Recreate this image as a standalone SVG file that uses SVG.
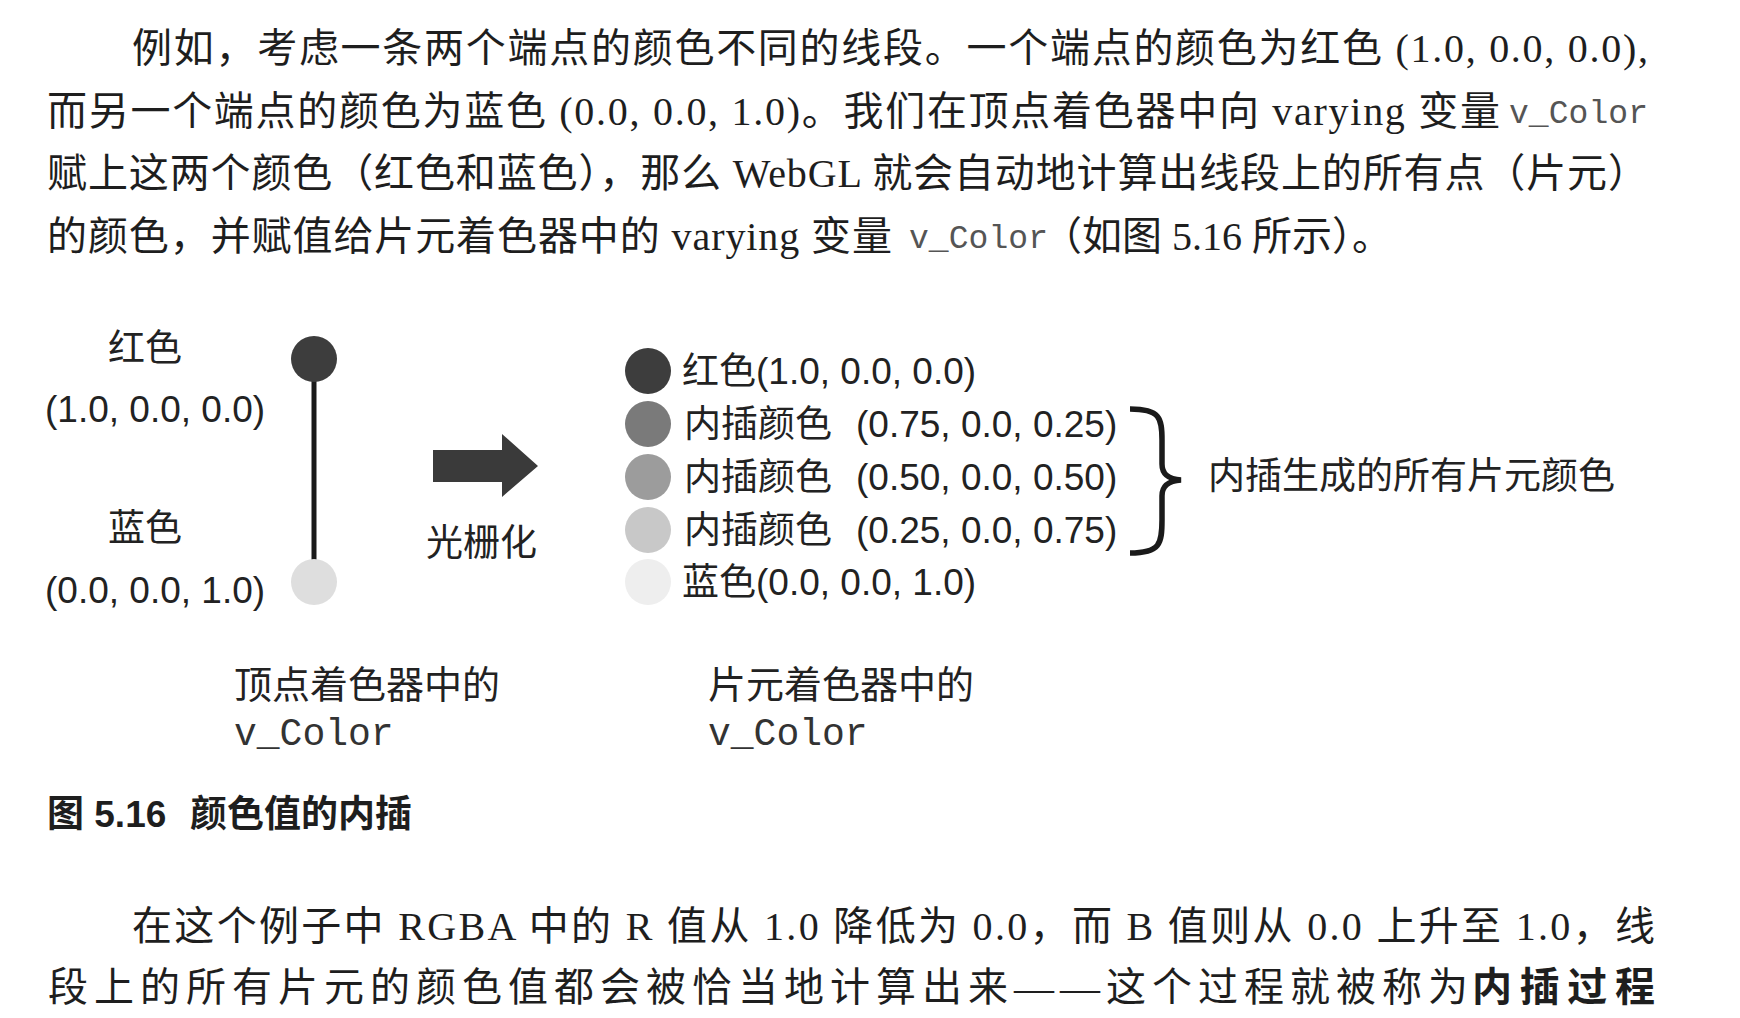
<svg xmlns="http://www.w3.org/2000/svg" width="1740" height="1018" viewBox="0 0 1740 1018">
<style>
.body{font-family:"Liberation Serif","Noto Sans CJK SC",serif;font-size:40px;fill:#1e1e1e}
.mono{font-family:"Liberation Mono",monospace;fill:#555}
.lbl{font-family:"Liberation Sans","Noto Sans CJK SC",sans-serif;font-size:37px;fill:#222}
.lbl2{font-family:"Liberation Sans","Noto Sans CJK SC",sans-serif;font-size:38px;fill:#222}
.lblm{font-family:"Liberation Mono",monospace;font-size:38px;fill:#333}
.cap{font-family:"Liberation Sans","Noto Sans CJK SC",sans-serif;font-size:37px;font-weight:bold;fill:#1e1e1e}
</style>
<rect width="1740" height="1018" fill="#ffffff"/>
<g id="paragraph1">
<text class="body" x="132" y="62" textLength="1516" lengthAdjust="spacing">例如，考虑一条两个端点的颜色不同的线段。一个端点的颜色为红色 (1.0, 0.0, 0.0),</text>
<text class="body" x="47" y="125" textLength="1453" lengthAdjust="spacing">而另一个端点的颜色为蓝色 (0.0, 0.0, 1.0)。我们在顶点着色器中向 varying 变量</text>
<text class="mono" x="1509" y="123" font-size="33" textLength="139" lengthAdjust="spacing">v_Color</text>
<text class="body" x="47" y="187" textLength="1601" lengthAdjust="spacing">赋上这两个颜色（红色和蓝色），那么 WebGL 就会自动地计算出线段上的所有点（片元）</text>
<text class="body" x="47" y="250" textLength="845" lengthAdjust="spacing">的颜色，并赋值给片元着色器中的 varying 变量</text>
<text class="mono" x="909" y="248" font-size="33" textLength="139" lengthAdjust="spacing">v_Color</text>
<text class="body" x="1042" y="250" textLength="350" lengthAdjust="spacing">（如图 5.16 所示）。</text>
</g>
<g id="connectors">
<line x1="314" y1="370" x2="314" y2="570" stroke="#1a1a1a" stroke-width="5"/>
<polygon points="433,450 502,450 502,434 538,466 502,497 502,482 433,482" fill="#3a3a3a"/>
<path d="M1130,409 C1160,409 1162,418 1162,440 L1162,464 C1162,474 1168,479 1181,480 C1168,481 1162,486 1162,496 L1162,520 C1162,544 1160,553 1130,553" fill="none" stroke="#1a1a1a" stroke-width="5.5"/>
</g>
<g id="vertex-red">
<circle cx="314" cy="359" r="23" fill="#3d3d3d"/>
<text class="lbl" x="108" y="361">红色</text>
<text class="lbl" x="45" y="422">(1.0, 0.0, 0.0)</text>
</g>
<g id="vertex-blue">
<circle cx="314" cy="582" r="23" fill="#dedede"/>
<text class="lbl" x="108" y="541">蓝色</text>
<text class="lbl" x="45" y="603">(0.0, 0.0, 1.0)</text>
</g>
<g id="raster-label">
<text class="lbl" x="426" y="556">光栅化</text>
</g>
<g id="frag-1">
<circle cx="648" cy="371" r="23" fill="#3d3d3d"/>
<text class="lbl" x="682" y="384">红色(1.0, 0.0, 0.0)</text>
</g>
<g id="frag-2">
<circle cx="648" cy="424" r="23" fill="#7a7a7a"/>
<text class="lbl" x="684" y="437">内插颜色</text>
<text class="lbl" x="856" y="437">(0.75, 0.0, 0.25)</text>
</g>
<g id="frag-3">
<circle cx="648" cy="477" r="23" fill="#9c9c9c"/>
<text class="lbl" x="684" y="490">内插颜色</text>
<text class="lbl" x="856" y="490">(0.50, 0.0, 0.50)</text>
</g>
<g id="frag-4">
<circle cx="648" cy="530" r="23" fill="#c8c8c8"/>
<text class="lbl" x="684" y="543">内插颜色</text>
<text class="lbl" x="856" y="543">(0.25, 0.0, 0.75)</text>
</g>
<g id="frag-5">
<circle cx="648" cy="582" r="23" fill="#eeeeee"/>
<text class="lbl" x="682" y="595">蓝色(0.0, 0.0, 1.0)</text>
</g>
<g id="brace-label">
<text class="lbl" x="1208" y="489">内插生成的所有片元颜色</text>
</g>
<g id="vertex-shader-label">
<text class="lbl2" x="234" y="698">顶点着色器中的</text>
<text class="lblm" x="234" y="745">v_Color</text>
</g>
<g id="fragment-shader-label">
<text class="lbl2" x="708" y="698">片元着色器中的</text>
<text class="lblm" x="708" y="745">v_Color</text>
</g>
<g id="caption">
<text class="cap" x="47" y="827">图 5.16</text>
<text class="cap" x="190" y="827">颜色值的内插</text>
</g>
<g id="paragraph2">
<text class="body" x="132" y="940" textLength="1523" lengthAdjust="spacing">在这个例子中 RGBA 中的 R 值从 1.0 降低为 0.0，而 B 值则从 0.0 上升至 1.0，线</text>
<text class="body" x="48" y="1001" textLength="1420" lengthAdjust="spacing">段上的所有片元的颜色值都会被恰当地计算出来——这个过程就被称为</text>
<text class="body" x="1472" y="1001" font-weight="bold" textLength="183" lengthAdjust="spacing">内插过程</text>
</g>
</svg>
